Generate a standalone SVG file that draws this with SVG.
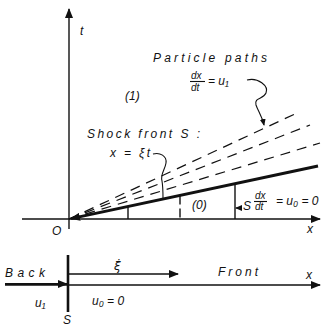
<svg xmlns="http://www.w3.org/2000/svg" width="325" height="328" viewBox="0 0 325 328">
<style>
text{font-family:"Liberation Sans","DejaVu Sans",sans-serif;font-style:italic;fill:#111;font-size:12px}
.ln{stroke:#111;stroke-width:1.4;fill:none}
.thin{stroke:#111;stroke-width:1.1;fill:none}
.dash{stroke:#111;stroke-width:1.2;stroke-dasharray:10 7;fill:none}
.thick{stroke:#111;stroke-width:3;fill:none}
.small{font-size:10px}
</style>
<defs>
<marker id="ah" markerWidth="10" markerHeight="8" refX="9" refY="4" orient="auto-start-reverse" markerUnits="userSpaceOnUse"><path d="M0,0 L10,4 L0,8 z" fill="#111"/></marker>
<marker id="ahs" markerWidth="7" markerHeight="6" refX="6" refY="3" orient="auto" markerUnits="userSpaceOnUse"><path d="M0,0 L7,3 L0,6 z" fill="#111"/></marker>
</defs>
<rect width="325" height="328" fill="#fff"/>

<g id="connectors">
  <line class="ln" x1="69" y1="229" x2="69" y2="9" marker-end="url(#ah)"/>
  <line class="ln" x1="22" y1="219" x2="320" y2="219" marker-end="url(#ah)"/>
  <line class="dash" x1="69" y1="219" x2="297" y2="113"/>
  <line class="dash" x1="69" y1="219" x2="310" y2="125"/>
  <line class="dash" x1="69" y1="219" x2="320" y2="143"/>
  <line class="thick" x1="71" y1="218.6" x2="318" y2="166" marker-start="url(#ah)"/>
  <line class="ln" x1="128" y1="206.5" x2="128" y2="219"/>
  <line class="ln" x1="180" y1="195.5" x2="180" y2="219" stroke-dasharray="9 4"/>
  <line class="ln" x1="235" y1="184" x2="235" y2="219"/>
  <line class="thin" x1="241" y1="208" x2="236" y2="208" marker-end="url(#ahs)"/>
  <path class="thin" d="M247,80 C258,77 269,86 266,93 C263,100 254,97 256,105 C258,111 262,116 264,125" marker-end="url(#ahs)"/>
  <path class="thin" d="M153,154 C160,152 167,156 166,163 C165,170 160,174 162,181 C163,187 163,192 163,198"/>
  <line class="ln" x1="5" y1="285" x2="320" y2="285" marker-end="url(#ah)"/>
  <line stroke="#111" stroke-width="2.2" x1="5" y1="284" x2="67" y2="284" marker-end="url(#ah)"/>
  <line class="ln" x1="68" y1="274" x2="178" y2="274" marker-end="url(#ah)"/>
  <line stroke="#111" stroke-width="2.6" x1="68" y1="255" x2="68" y2="312"/>
</g>

<g id="axis-t"><text x="80" y="35" font-size="15">t</text></g>
<g id="axis-x"><text x="307" y="233" font-size="14">x</text></g>
<g id="origin"><text x="52" y="235" font-size="13">O</text></g>
<g id="region1"><text x="125" y="100" font-size="13">(1)</text></g>
<g id="region0"><text x="192" y="209" font-size="13">(0)</text></g>
<g id="particle-paths">
  <text x="153" y="62" textLength="114" lengthAdjust="spacing">Particle paths</text>
  <text x="191" y="79" class="small">dx</text>
  <line class="thin" x1="190" y1="81.5" x2="205" y2="81.5"/>
  <text x="191" y="91" class="small">dt</text>
  <text x="208" y="85">= u₁</text>
</g>
<g id="shock-front">
  <text x="87" y="138" textLength="113" lengthAdjust="spacing">Shock front S :</text>
  <text x="110" y="157" textLength="40" lengthAdjust="spacing">x = ξt</text>
</g>
<g id="shock-label">
  <text x="243" y="210" font-size="13">S</text>
  <text x="255" y="199" class="small">dx</text>
  <line class="thin" x1="254" y1="201.5" x2="267" y2="201.5"/>
  <text x="255" y="210" class="small">dt</text>
  <text x="276" y="205" font-size="11">= u₀ = 0</text>
</g>
<g id="bottom">
  <text x="5" y="277" textLength="40" lengthAdjust="spacing">Back</text>
  <text x="218" y="276" textLength="40" lengthAdjust="spacing">Front</text>
  <text x="306" y="279" font-size="14">x</text>
  <text x="114" y="270" font-size="13" style="font-family:'DejaVu Sans',sans-serif">ξ̇</text>
  <text x="35" y="307">u₁</text>
  <text x="92" y="305">u₀ = 0</text>
  <text x="63" y="324" font-style="normal">S</text>
</g>
</svg>
